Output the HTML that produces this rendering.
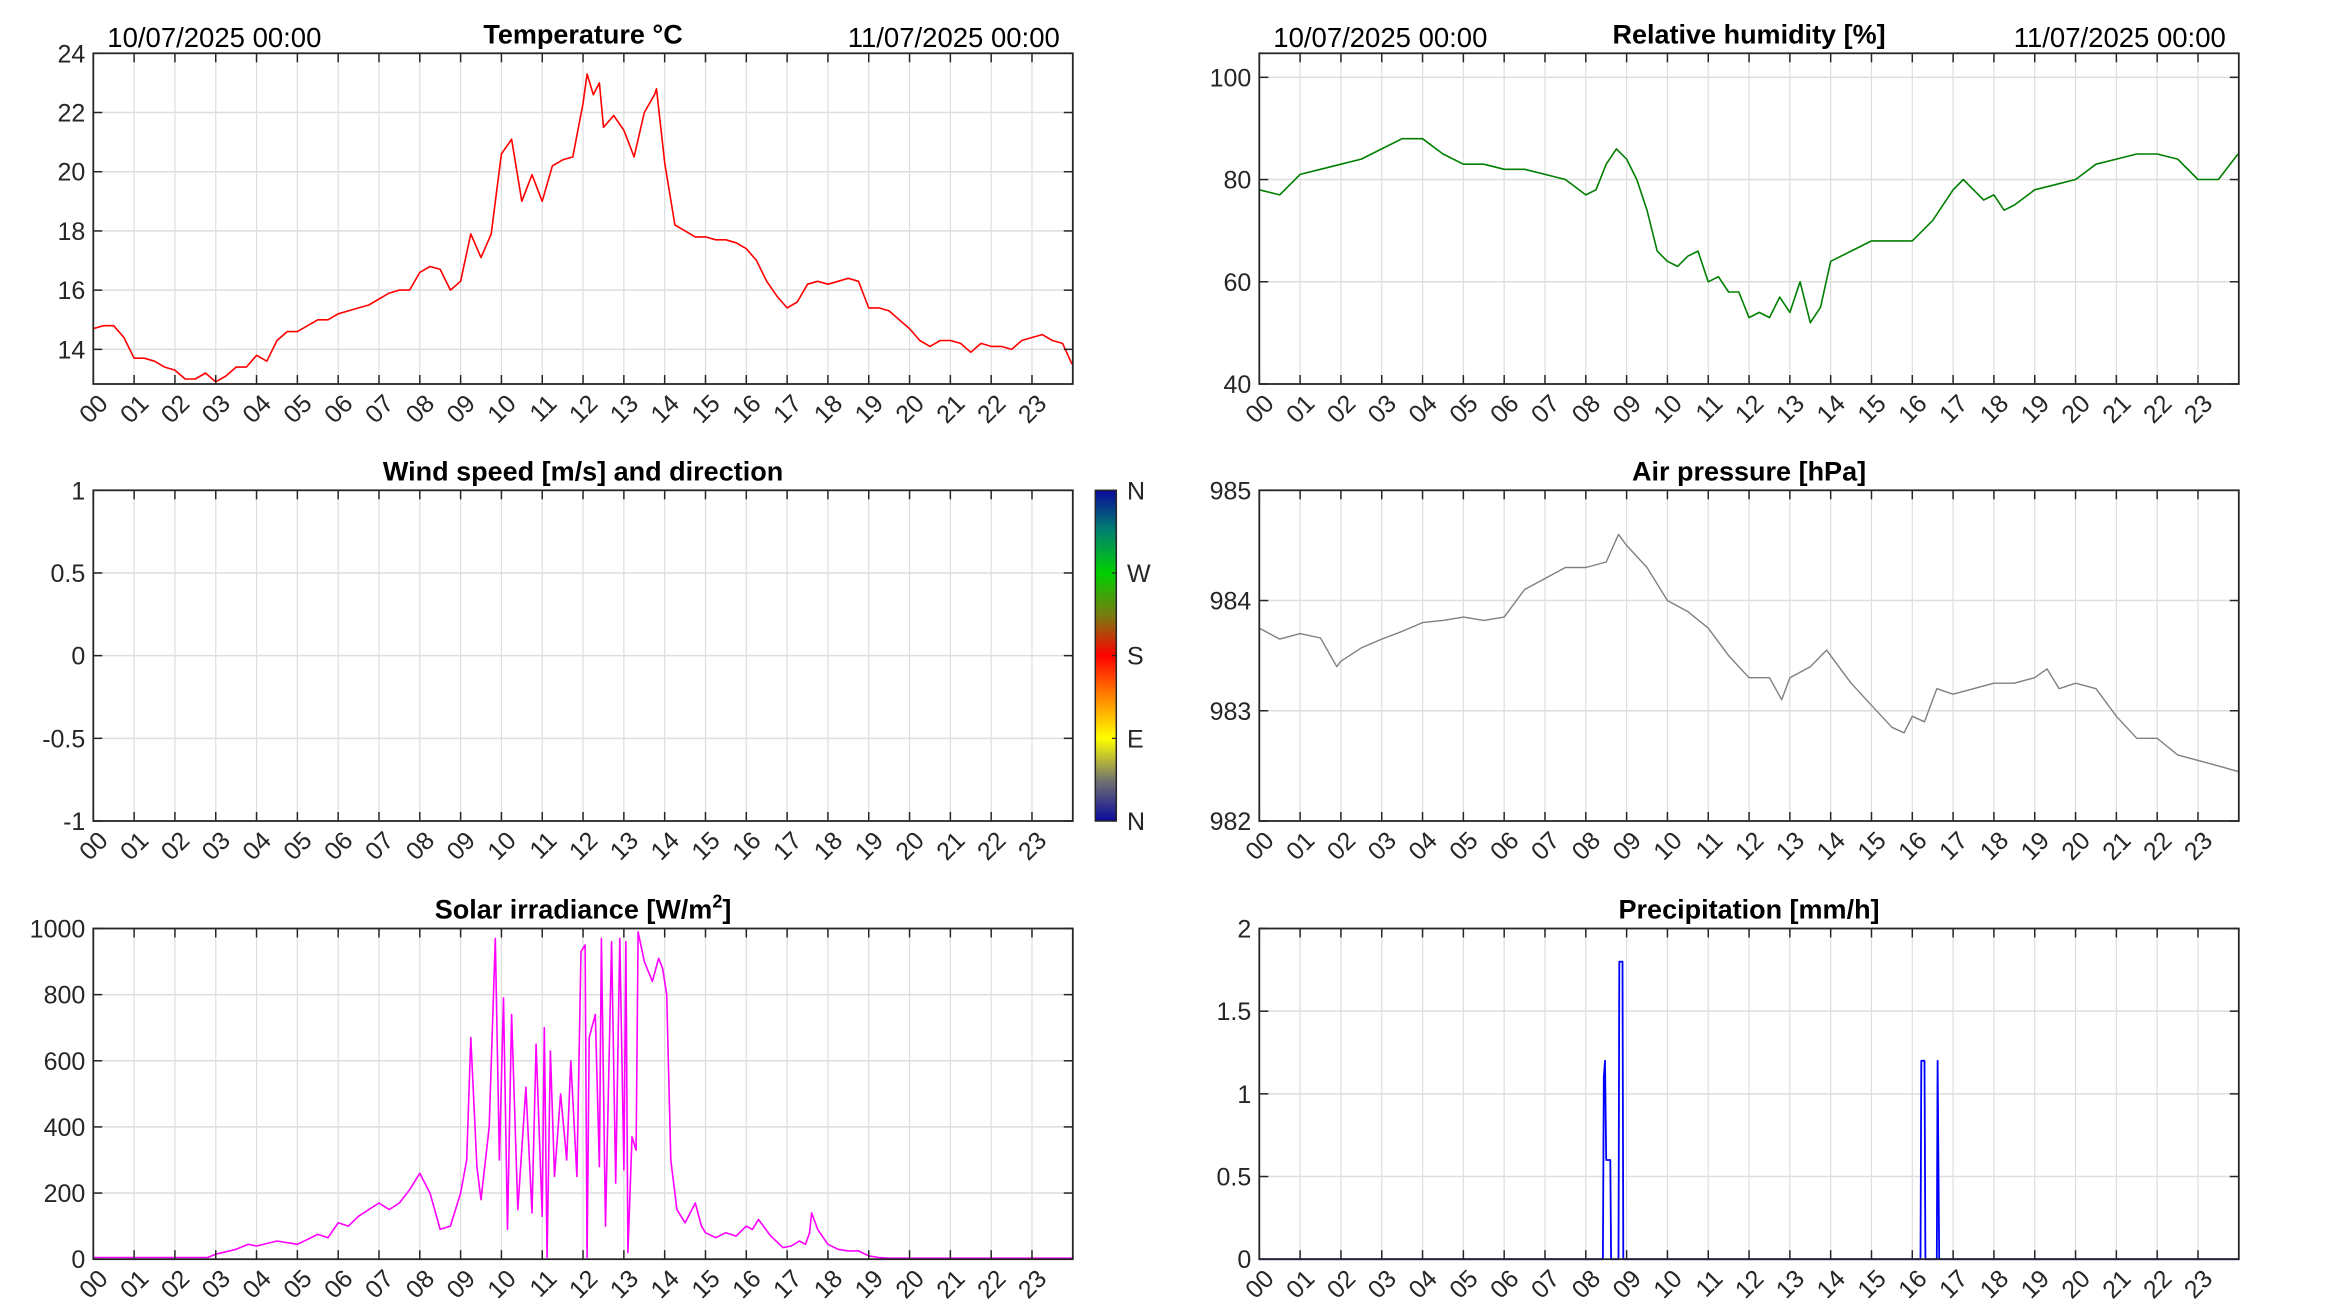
<!DOCTYPE html>
<html><head><meta charset="utf-8"><style>
html,body{margin:0;padding:0;background:#fff;}
svg{display:block;font-family:"Liberation Sans",Arial,sans-serif;}
</style></head><body>
<svg id="chart" width="2333" height="1313" viewBox="0 0 2333 1313" xmlns="http://www.w3.org/2000/svg">
<defs>
<linearGradient id="dirGrad" x1="0" y1="1" x2="0" y2="0">
<stop offset="0" stop-color="#0a0a9c"/><stop offset="0.12" stop-color="#707070"/>
<stop offset="0.25" stop-color="#ffff00"/><stop offset="0.38" stop-color="#ff8000"/>
<stop offset="0.5" stop-color="#ff0000"/><stop offset="0.62" stop-color="#7a7a10"/>
<stop offset="0.75" stop-color="#00d000"/><stop offset="0.88" stop-color="#008070"/>
<stop offset="1" stop-color="#0a0a9c"/></linearGradient>
</defs>
</svg>
<script>
// ---- data ----
const hourLabels=["00","01","02","03","04","05","06","07","08","09","10","11","12","13","14","15","16","17","18","19","20","21","22","23"];
const tempTicks=[14,16,18,20,22,24];
const humTicks=[40,60,80,100];
const windTicks=[-1,-0.5,0,0.5,1];
const presTicks=[982,983,984,985];
const solarTicks=[0,200,400,600,800,1000];
const precTicks=[0,0.5,1,1.5,2];
const dirLabels=["N","E","S","W","N"];

const tempT=[0,0.25,0.5,0.75,1,1.25,1.5,1.75,2,2.25,2.5,2.75,3,3.25,3.5,3.75,4,4.25,4.5,4.75,5,5.25,5.5,5.75,6,6.25,6.5,6.75,7,7.25,7.5,7.75,8,8.25,8.5,8.75,9,9.25,9.5,9.75,10,10.25,10.5,10.75,11,11.25,11.5,11.75,12,12.1,12.25,12.4,12.5,12.75,13,13.25,13.5,13.75,13.8,14,14.25,14.5,14.75,15,15.25,15.5,15.75,16,16.25,16.5,16.75,17,17.25,17.5,17.75,18,18.25,18.5,18.75,19,19.25,19.5,19.75,20,20.25,20.5,20.75,21,21.25,21.5,21.75,22,22.25,22.5,22.75,23,23.25,23.5,23.75,23.98];
const tempV=[14.7,14.8,14.8,14.4,13.7,13.7,13.6,13.4,13.3,13.0,13.0,13.2,12.9,13.1,13.4,13.4,13.8,13.6,14.3,14.6,14.6,14.8,15.0,15.0,15.2,15.3,15.4,15.5,15.7,15.9,16.0,16.0,16.6,16.8,16.7,16.0,16.3,17.9,17.1,17.9,20.6,21.1,19.0,19.9,19.0,20.2,20.4,20.5,22.3,23.3,22.6,23.0,21.5,21.9,21.4,20.5,22.0,22.6,22.8,20.3,18.2,18.0,17.8,17.8,17.7,17.7,17.6,17.4,17.0,16.3,15.8,15.4,15.6,16.2,16.3,16.2,16.3,16.4,16.3,15.4,15.4,15.3,15.0,14.7,14.3,14.1,14.3,14.3,14.2,13.9,14.2,14.1,14.1,14.0,14.3,14.4,14.5,14.3,14.2,13.5];

const humT=[0,0.5,1,1.5,2,2.5,3,3.5,4,4.5,5,5.5,6,6.5,7,7.5,8,8.25,8.5,8.75,9,9.25,9.5,9.75,10,10.25,10.5,10.75,11,11.25,11.5,11.75,12,12.25,12.5,12.75,13,13.25,13.5,13.75,14,14.5,15,15.5,16,16.5,17,17.25,17.5,17.75,18,18.25,18.5,19,19.5,20,20.5,21,21.5,22,22.5,23,23.5,23.98];
const humV=[78,77,81,82,83,84,86,88,88,85,83,83,82,82,81,80,77,78,83,86,84,80,74,66,64,63,65,66,60,61,58,58,53,54,53,57,54,60,52,55,64,66,68,68,68,72,78,80,78,76,77,74,75,78,79,80,83,84,85,85,84,80,80,85];

const presT=[0,0.5,1,1.5,1.9,2,2.5,3,3.5,4,4.5,5,5.5,6,6.5,7,7.5,8,8.5,8.8,9,9.5,10,10.5,11,11.5,12,12.5,12.8,13,13.5,13.9,14.2,14.5,15,15.5,15.8,16,16.3,16.6,17,17.5,18,18.5,19,19.3,19.6,20,20.5,21,21.5,22,22.5,23,23.5,23.98];
const presV=[983.75,983.65,983.7,983.66,983.4,983.45,983.57,983.65,983.72,983.8,983.82,983.85,983.82,983.85,984.1,984.2,984.3,984.3,984.35,984.6,984.5,984.3,984.0,983.9,983.75,983.5,983.3,983.3,983.1,983.3,983.4,983.55,983.4,983.25,983.05,982.85,982.8,982.95,982.9,983.2,983.15,983.2,983.25,983.25,983.3,983.38,983.2,983.25,983.2,982.95,982.75,982.75,982.6,982.55,982.5,982.45];

const solarT=[0,2.8,3,3.5,3.8,4,4.5,5,5.5,5.75,6,6.25,6.5,7,7.25,7.5,7.75,8,8.25,8.5,8.75,9,9.15,9.25,9.4,9.5,9.7,9.85,9.95,10.05,10.15,10.25,10.4,10.6,10.75,10.85,11,11.05,11.12,11.2,11.3,11.45,11.6,11.7,11.85,11.95,12.05,12.1,12.15,12.3,12.4,12.45,12.55,12.7,12.8,12.9,13.0,13.05,13.1,13.2,13.3,13.35,13.5,13.7,13.85,13.95,14.05,14.15,14.3,14.5,14.75,14.9,15,15.25,15.5,15.75,16,16.15,16.3,16.6,16.9,17.1,17.3,17.45,17.55,17.6,17.75,18,18.25,18.5,18.75,19,19.25,19.5,23.98];
const solarV=[5,5,15,30,45,40,55,45,75,65,110,100,130,170,150,170,210,260,200,90,100,200,300,670,280,180,400,970,300,790,90,740,150,520,140,650,130,700,5,630,250,500,300,600,250,930,950,5,670,740,280,970,100,960,230,970,270,960,20,370,330,990,900,840,910,880,800,300,150,110,170,100,80,65,80,70,100,90,120,70,35,40,55,45,80,140,90,45,30,25,25,10,5,3,3];

const precT=[0,8.42,8.44,8.47,8.5,8.52,8.6,8.62,8.8,8.82,8.9,8.92,16.2,16.22,16.3,16.32,16.6,16.62,16.66,24];
const precV=[0,0,1.1,1.2,0.6,0.6,0.6,0,0,1.8,1.8,0,0,1.2,1.2,0,0,1.2,0,0];

// ---- layout ----
const NS="http://www.w3.org/2000/svg";
const svg=document.getElementById('chart');
function el(tag,attrs,parent){const e=document.createElementNS(NS,tag);for(const k in attrs)e.setAttribute(k,attrs[k]);(parent||svg).appendChild(e);return e;}
const colX=[93.3,1259.3], W=979.5, rowY=[53.3,490.3,928.5], H=330.7;

function makeAxes(name,col,row,ymin,ymax,yticks,title,series,color,lw){
  const x0=colX[col], y0=rowY[row];
  const g=el('g',{});
  
  
  const xs=h=>x0+h/24*W;
  const ys=v=>y0+H-(v-ymin)/(ymax-ymin)*H;
  el('rect',{x:x0,y:y0,width:W,height:H,fill:'#fff'},g);
  for(let i=0;i<24;i++){const x=xs(i);
    const l=el('line',{x1:x,x2:x,y1:y0,y2:y0+H,stroke:'#dedede','stroke-width':1.2},g);
    
    }
  yticks.forEach(v=>{const y=ys(v); if(y>y0+1&&y<y0+H-1){
    const l=el('line',{x1:x0,x2:x0+W,y1:y,y2:y,stroke:'#dedede','stroke-width':1.5},g);
    
    }});
  if(series){
    const d=series[0].map((t,i)=>(i?'L':'M')+xs(t).toFixed(1)+' '+ys(series[1][i]).toFixed(1)).join(' ');
    const p=el('path',{d:d,fill:'none',stroke:color,'stroke-width':lw||1.6,'stroke-linejoin':'round'},g);
    
    
  }
  for(let i=0;i<24;i++){const x=xs(i);
    el('line',{x1:x,x2:x,y1:y0+H,y2:y0+H-9,stroke:'#262626','stroke-width':1.5},g);
    el('line',{x1:x,x2:x,y1:y0,y2:y0+9,stroke:'#262626','stroke-width':1.5},g);
    const t=el('text',{x:0,y:0,'text-anchor':'end','font-size':25,fill:'#262626',transform:`translate(${x+16},${y0+H+21}) rotate(-45)`},g);
    t.textContent=hourLabels[i];
    
    }
  yticks.forEach(v=>{const y=ys(v);
    el('line',{x1:x0,x2:x0+9,y1:y,y2:y,stroke:'#262626','stroke-width':1.5},g);
    el('line',{x1:x0+W,x2:x0+W-9,y1:y,y2:y,stroke:'#262626','stroke-width':1.5},g);
    const t=el('text',{x:x0-8,y:y+9,'text-anchor':'end','font-size':25,fill:'#262626'},g);
    t.textContent=String(v);
    
    });
  const b=el('rect',{x:x0,y:y0,width:W,height:H,fill:'none',stroke:'#262626','stroke-width':1.8},g);
  
  
  const tt=el('text',{x:x0+W/2,y:y0-10,'text-anchor':'middle','font-size':27,'font-weight':'bold',fill:'#000'},g);
  tt.innerHTML=title;
  
  
  return g;
}

makeAxes('temperature',0,0,12.83,24,tempTicks,'Temperature °C',[tempT,tempV],'#ff0000');
makeAxes('humidity',1,0,40,104.7,humTicks,'Relative humidity [%]',[humT,humV],'#007f00');
makeAxes('wind',0,1,-1,1,windTicks,'Wind speed [m/s] and direction',null);
makeAxes('pressure',1,1,982,985,presTicks,'Air pressure [hPa]',[presT,presV],'#808080',1.4);
makeAxes('solar',0,2,0,1000,solarTicks,'Solar irradiance [W/m<tspan font-size="18" dy="-11">2</tspan><tspan dy="11">]</tspan>',[solarT,solarV],'#ff00ff');
makeAxes('precipitation',1,2,0,2,precTicks,'Precipitation [mm/h]',[precT,precV],'#0000ff',1.8);

[[colX[0],'start','date-start-left'],[colX[0]+W-13,'end','date-end-left'],[colX[1],'start','date-start-right'],[colX[1]+W-13,'end','date-end-right']].forEach((d,i)=>{
  const t=el('text',{x:d[1]==='start'?d[0]+14:d[0],y:47,'text-anchor':d[1],'font-size':27.5,fill:'#000'});
  t.textContent=(i%2===0)?'10/07/2025 00:00':'11/07/2025 00:00';
  
  
});

const cb=el('rect',{x:1095.3,y:490.3,width:21,height:H,fill:'url(#dirGrad)',stroke:'#262626','stroke-width':1.5});


dirLabels.forEach((s,i)=>{const y=490.3+H-i/4*H;
  el('line',{x1:1116.3,x2:1112,y1:y,y2:y,stroke:'#262626','stroke-width':1.2});
  const t=el('text',{x:1127,y:y+9,'font-size':25,fill:'#262626'});
  t.textContent=s;
  
  });
</script>
</body></html>
